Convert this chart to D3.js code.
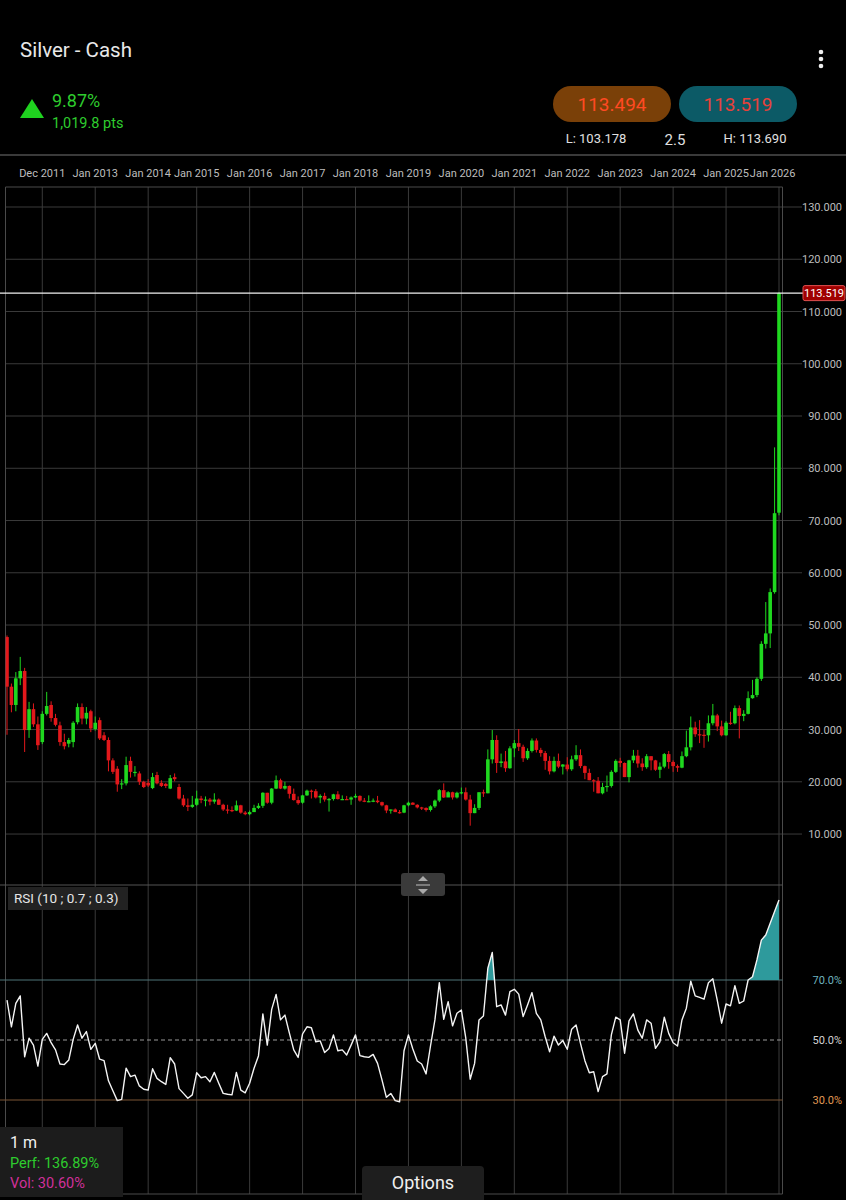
<!DOCTYPE html>
<html><head><meta charset="utf-8">
<script src="https://cdn.jsdelivr.net/npm/d3@7"></script>
<style>html,body{margin:0;padding:0;background:#000;}svg{display:block;font-family:Roboto,"Noto Sans",sans-serif;}</style>
</head><body>
<script>
// ---------- DATA ----------
const months = ["2011-05","2011-06","2011-07","2011-08","2011-09","2011-10","2011-11","2011-12",
"2012-01","2012-02","2012-03","2012-04","2012-05","2012-06","2012-07","2012-08","2012-09","2012-10","2012-11","2012-12",
"2013-01","2013-02","2013-03","2013-04","2013-05","2013-06","2013-07","2013-08","2013-09","2013-10","2013-11","2013-12",
"2014-01","2014-02","2014-03","2014-04","2014-05","2014-06","2014-07","2014-09","2014-10","2014-11","2014-12",
"2015-01","2015-02","2015-03","2015-04","2015-05","2015-06","2015-07","2015-08","2015-09","2015-10","2015-11","2015-12",
"2016-01","2016-02","2016-03","2016-04","2016-05","2016-06","2016-07","2016-08","2016-09","2016-10","2016-11","2016-12",
"2017-01","2017-02","2017-03","2017-04","2017-05","2017-06","2017-07","2017-08","2017-09","2017-10","2017-11","2017-12",
"2018-01","2018-02","2018-03","2018-04","2018-05","2018-06","2018-07","2018-08","2018-09","2018-10","2018-11","2018-12",
"2019-01","2019-02","2019-03","2019-04","2019-05","2019-06","2019-07","2019-08","2019-09","2019-10","2019-11","2019-12",
"2020-01","2020-02","2020-03","2020-04","2020-05","2020-06","2020-07","2020-08","2020-09","2020-10","2020-11","2020-12",
"2021-01","2021-02","2021-03","2021-04","2021-05","2021-06","2021-07","2021-08","2021-09","2021-10","2021-11","2021-12",
"2022-01","2022-02","2022-03","2022-04","2022-05","2022-06","2022-07","2022-08","2022-09","2022-10","2022-11","2022-12",
"2023-01","2023-02","2023-03","2023-04","2023-05","2023-06","2023-07","2023-08","2023-09","2023-10","2023-11","2023-12",
"2024-01","2024-02","2024-03","2024-04","2024-05","2024-06","2024-07","2024-08","2024-09","2024-10","2024-11","2024-12",
"2025-01","2025-02","2025-03","2025-04","2025-05","2025-06","2025-07","2025-08","2025-09","2025-10","2025-11","2025-12",
"2026-01"];

const open = [47.7,38.2,34.7,39.8,41.2,29.9,33.9,31.0,
27.6,33.0,34.7,32.2,30.8,27.6,27.3,27.6,31.4,34.3,32.1,33.5,
30.1,31.8,28.9,28.0,24.1,22.5,19.5,19.7,24.0,21.7,21.6,20.0,
19.8,18.8,21.3,19.8,19.6,18.7,20.9,19.0,16.8,15.5,15.2,
15.6,16.8,16.4,16.6,16.2,16.6,15.6,14.7,14.6,14.5,15.5,14.1,
13.8,14.2,15.0,15.4,17.9,16.0,18.7,20.3,18.7,19.2,17.7,16.5,
16.0,17.4,18.3,18.2,17.0,17.3,16.6,16.7,17.6,16.7,16.7,16.6,
17.0,17.3,16.4,16.3,16.3,16.4,16.1,15.5,14.5,14.7,14.2,14.1,
15.5,16.0,15.6,15.1,15.0,14.6,15.3,16.4,18.4,17.0,18.0,17.0,
17.9,18.0,16.6,14.0,15.0,18.0,17.8,24.3,28.0,23.6,23.9,22.6,
26.4,27.4,26.7,24.5,25.9,27.9,26.1,25.5,24.0,22.0,24.0,22.9,
23.3,22.4,24.3,25.1,23.0,21.7,20.3,20.2,17.8,19.0,19.2,21.9,
24.0,23.6,20.9,24.1,25.0,23.5,22.8,24.9,24.1,22.3,22.9,25.3,
23.8,23.0,22.7,24.9,26.6,30.4,29.1,29.0,28.9,31.2,32.7,30.6,
28.9,31.3,31.2,34.1,32.6,33.0,36.0,36.6,39.7,46.4,48.4,56.3,
71.5];

const high = [48.0,38.8,41.0,43.9,41.8,35.3,35.0,32.5,
33.5,37.2,35.4,33.0,31.5,29.2,28.4,31.6,35.0,35.0,34.3,33.8,
32.5,32.3,29.5,28.5,24.5,23.0,20.5,24.8,24.8,23.0,22.0,20.2,
20.5,21.7,21.9,20.3,19.8,21.3,21.6,19.6,17.5,16.8,17.3,
18.3,17.3,17.2,16.9,17.8,16.8,15.8,15.6,15.3,16.4,15.6,14.4,
14.5,15.6,15.9,18.0,17.9,18.8,21.2,20.6,20.0,19.3,18.7,17.2,
17.5,18.5,18.5,18.6,17.6,17.9,16.9,17.7,18.2,17.4,17.3,17.2,
17.7,17.4,16.9,17.4,16.8,17.3,16.2,15.6,14.7,14.9,14.6,15.6,
16.2,16.1,15.7,15.2,15.1,15.5,16.6,18.6,19.7,18.2,18.1,18.1,
18.9,18.9,17.5,15.7,18.0,18.5,26.2,29.9,28.9,25.4,25.9,26.8,
28.0,30.1,27.1,26.4,28.3,28.3,26.5,25.9,24.9,24.8,25.4,23.4,
24.7,25.0,27.0,26.2,23.1,22.5,20.5,20.9,19.8,21.2,22.2,24.3,
24.6,23.7,24.2,26.1,26.1,24.5,25.3,24.9,24.2,23.7,25.5,25.9,
24.1,23.3,25.8,29.8,32.5,31.5,31.8,29.9,32.7,34.9,33.0,31.7,
31.6,33.4,34.6,34.6,33.7,37.3,39.5,40.0,46.9,54.4,57.0,84.0,
113.69];

const low = [29.0,33.3,33.5,38.5,25.7,28.4,30.5,26.1,
27.2,32.7,31.5,30.6,26.9,26.2,26.6,26.6,31.0,31.0,31.0,29.5,
29.8,28.0,27.8,22.0,21.5,18.1,18.6,19.3,20.8,21.0,19.4,18.8,
19.0,18.6,19.5,19.0,18.8,18.6,20.1,16.6,15.2,14.4,15.0,
15.4,15.9,15.3,15.5,15.8,15.6,14.4,13.9,14.2,14.4,13.9,13.6,
13.6,14.2,14.8,15.0,15.8,15.7,18.6,18.6,18.5,16.8,16.4,15.6,
15.8,17.3,16.8,16.8,15.9,16.2,14.3,16.4,16.6,16.5,16.6,15.6,
16.9,16.2,16.1,16.1,16.1,15.9,15.3,14.0,13.9,14.2,13.9,14.0,
15.3,15.6,14.9,14.6,14.3,14.3,15.0,16.1,16.9,17.1,16.6,16.8,
17.6,16.4,11.6,14.0,14.6,17.1,17.8,23.5,21.7,22.8,21.9,22.5,
24.7,25.9,23.8,24.2,25.6,25.6,24.8,22.3,21.4,21.8,22.6,21.4,
22.0,22.1,24.0,22.6,20.5,20.3,18.1,17.8,17.6,18.1,18.9,21.7,
22.8,20.9,19.9,23.6,22.7,22.1,22.5,22.2,22.1,20.7,22.6,22.5,
21.9,21.9,22.6,24.7,26.0,28.6,27.4,26.5,27.7,30.8,29.7,28.7,
28.8,30.9,31.0,28.3,31.6,32.9,35.9,36.2,39.3,45.5,45.6,56.0,
71.0];

const close = [38.2,34.7,39.8,41.2,29.9,33.9,31.0,27.0,
33.0,34.5,32.2,30.9,27.6,26.8,28.0,31.3,34.3,32.1,33.2,30.2,
31.3,28.3,28.0,24.1,21.9,19.5,19.7,23.2,21.9,21.9,20.0,19.0,
19.3,20.9,19.7,19.2,19.2,20.7,20.5,16.8,15.5,15.2,15.6,
16.8,16.5,16.6,16.2,16.6,15.6,14.7,14.6,14.5,15.5,14.1,13.8,
14.2,15.0,15.4,17.9,16.0,18.7,20.3,18.7,19.2,17.7,16.5,15.9,
17.4,18.3,18.2,17.0,17.3,16.6,16.7,17.6,16.7,16.7,16.6,17.0,
17.3,16.4,16.3,16.3,16.4,16.1,15.5,14.5,14.7,14.2,14.1,15.5,
16.0,15.6,15.1,15.0,14.6,15.3,16.4,18.4,17.0,18.0,17.0,17.9,
18.0,16.6,14.0,15.0,18.0,17.8,24.3,28.0,23.6,23.9,22.6,26.4,
27.4,26.7,24.5,25.9,27.9,26.1,25.5,24.0,22.0,24.0,22.9,23.3,
22.4,24.3,25.1,23.0,21.7,20.3,20.2,17.8,19.0,19.2,21.9,24.0,
23.6,20.9,24.1,25.0,23.5,22.8,24.9,24.1,22.3,22.9,25.3,23.8,
23.0,22.7,24.9,26.6,30.4,29.1,29.0,28.9,31.2,32.7,30.6,28.9,
31.3,31.2,34.1,32.6,33.0,36.0,36.6,39.7,46.4,48.4,56.3,71.4,
113.519];

const rsi = [63.3,54.4,62.2,64.7,44.4,50.6,48.3,41.3,50.2,52.2,49.1,46.7,42.0,41.8,43.3,50.2,55.0,50.6,52.8,46.9,
48.9,43.6,43.1,36.4,33.1,29.8,30.2,40.6,37.8,38.3,34.7,33.6,33.3,40.4,37.2,36.1,35.2,44.1,42.0,33.8,
32.2,30.6,31.7,39.1,37.4,37.8,36.1,39.2,35.6,32.2,31.9,31.7,39.2,33.3,32.4,35.6,40.6,44.7,58.7,48.3,
60.2,65.2,56.7,58.3,52.4,46.7,44.2,52.0,54.4,54.1,49.4,49.7,45.8,47.2,51.7,46.4,46.7,45.0,48.3,51.7,
44.8,44.4,44.2,45.2,42.2,36.7,30.9,32.2,29.8,29.4,46.4,51.7,47.0,43.0,42.0,38.7,48.0,56.7,69.1,56.9,
62.8,54.7,58.9,60.0,50.6,36.9,42.2,56.7,58.0,73.9,79.2,61.1,61.7,58.3,66.1,66.9,65.3,57.8,61.7,65.8,
58.9,56.7,51.1,46.1,51.3,48.3,49.8,46.9,53.6,55.0,48.9,43.1,39.1,39.4,32.8,37.8,38.7,51.7,57.6,56.7,
45.6,56.4,58.7,53.3,50.6,56.7,55.6,47.2,49.4,57.6,52.2,49.1,48.0,56.7,60.6,69.6,64.7,64.2,63.6,69.1,
70.4,63.3,55.6,62.0,61.4,68.1,62.2,63.0,70.0,71.1,76.7,83.3,85.0,88.9,92.8,96.7];

const tickMonths = ["2012-01","2013-01","2014-01","2015-01","2016-01","2017-01","2018-01","2019-01","2020-01","2021-01","2022-01","2023-01","2024-01","2025-01","2026-01"];
const tickLabels = ["Dec 2011","Jan 2013","Jan 2014","Jan 2015","Jan 2016","Jan 2017","Jan 2018","Jan 2019","Jan 2020","Jan 2021","Jan 2022","Jan 2023","Jan 2024","Jan 2025","Jan 2026"];
const priceTicks = [10,20,30,40,50,60,70,80,90,100,110,120,130];
const rsiLevels = [70,50,30];
const lastPrice = 113.519;

// ---------- LAYOUT ----------
const W = 846, H = 1200;
const L = 5.5, R = 782.5, PT = 187, PB = 885, RB = 1194;
const svg = d3.select("body").append("svg").attr("width", W).attr("height", H);
svg.append("rect").attr("width", W).attr("height", H).attr("fill", "#000");

const x = d3.scaleLinear().domain([0, months.length - 1]).range([7, 779]);
const y = d3.scaleLinear().domain([0, 130]).range([886.3, 207]);
const yr = d3.scaleLinear().domain([30, 70]).range([1100, 980]);

// ---------- HEADER ----------
svg.append("text").attr("x", 20).attr("y", 57).attr("fill", "#e8e8e8").attr("font-size", 20.5).text("Silver - Cash");
const dots = svg.append("g").attr("fill", "#eee");
[52, 59, 66].forEach(cy => dots.append("circle").attr("cx", 821).attr("cy", cy).attr("r", 2.3));
svg.append("path").attr("d", "M20,118 L32,99 L44,118 Z").attr("fill", "#1fd21f");
svg.append("text").attr("x", 52).attr("y", 107).attr("fill", "#2ecc2e").attr("font-size", 18).text("9.87%");
svg.append("text").attr("x", 52).attr("y", 128).attr("fill", "#2ecc2e").attr("font-size", 14.5).text("1,019.8 pts");
svg.append("rect").attr("x", 553).attr("y", 86).attr("width", 118).attr("height", 36).attr("rx", 18).attr("fill", "#7a4008");
svg.append("text").attr("x", 612).attr("y", 111).attr("text-anchor", "middle").attr("fill", "#ff4a22").attr("font-size", 19).text("113.494");
svg.append("rect").attr("x", 679).attr("y", 86).attr("width", 118).attr("height", 36).attr("rx", 18).attr("fill", "#0c5a66");
svg.append("text").attr("x", 738).attr("y", 111).attr("text-anchor", "middle").attr("fill", "#e8413a").attr("font-size", 19).text("113.519");
svg.append("text").attr("x", 596).attr("y", 143).attr("text-anchor", "middle").attr("fill", "#e0e0e0").attr("font-size", 13).text("L: 103.178");
svg.append("text").attr("x", 675).attr("y", 145).attr("text-anchor", "middle").attr("fill", "#e0e0e0").attr("font-size", 15).text("2.5");
svg.append("text").attr("x", 755).attr("y", 143).attr("text-anchor", "middle").attr("fill", "#e0e0e0").attr("font-size", 13).text("H: 113.690");
svg.append("rect").attr("x", 0).attr("y", 154).attr("width", W).attr("height", 2).attr("fill", "#3a3a3a");

// ---------- X LABELS + VERTICAL GRID ----------
const tickIdx = tickMonths.map(m => months.indexOf(m));
const grid = svg.append("g");
let prevRight = -Infinity;
tickIdx.forEach((ti, k) => {
  const gx = x(ti);
  grid.append("line").attr("x1", gx).attr("x2", gx).attr("y1", PT).attr("y2", RB).attr("stroke", "#3a3a3a").attr("stroke-width", 1);
  const t = svg.append("text").attr("y", 177).attr("fill", "#bdbdbd").attr("font-size", 11).attr("text-anchor", "middle").text(tickLabels[k]);
  const tw = t.node().getComputedTextLength();
  let cx = gx;
  if (cx + tw / 2 > R) cx = R - tw / 2;
  if (cx - tw / 2 < prevRight + 1) cx = prevRight + 1 + tw / 2;
  t.attr("x", cx);
  prevRight = cx + tw / 2;
});

// horizontal price grid
priceTicks.forEach(v => {
  grid.append("line").attr("x1", L).attr("x2", 802).attr("y1", y(v)).attr("y2", y(v)).attr("stroke", "#3a3a3a");
  svg.append("text").attr("x", 842).attr("y", y(v) + 4).attr("text-anchor", "end").attr("fill", "#bdbdbd").attr("font-size", 11).text(d3.format(".3f")(v));
});

// frame
const frame = svg.append("g").attr("stroke", "#4a4a4a").attr("stroke-width", 1).attr("fill", "none");
frame.append("line").attr("x1", L).attr("x2", L).attr("y1", PT).attr("y2", RB);
frame.append("line").attr("x1", R).attr("x2", R).attr("y1", PT).attr("y2", RB);
frame.append("line").attr("x1", L).attr("x2", R).attr("y1", PT).attr("y2", PT);
frame.append("line").attr("x1", 0).attr("x2", R).attr("y1", PB).attr("y2", PB).attr("stroke", "#555");
frame.append("line").attr("x1", L).attr("x2", R).attr("y1", RB).attr("y2", RB);

// ---------- CANDLES ----------
const defs = svg.append("defs");
defs.append("clipPath").attr("id", "pc").append("rect").attr("x", L).attr("y", PT).attr("width", R - L).attr("height", PB - PT);
const cg = svg.append("g").attr("clip-path", "url(#pc)");
const green = "#1fd81f", red = "#e3181b";
months.forEach((m, i) => {
  const o = open[i], c = close[i], hi = high[i], lo = low[i];
  const col = c >= o ? green : red;
  const cx = x(i);
  cg.append("line").attr("x1", cx).attr("x2", cx).attr("y1", y(hi)).attr("y2", y(lo)).attr("stroke", col).attr("stroke-width", 1);
  const top = y(Math.max(o, c)), bot = y(Math.min(o, c));
  cg.append("rect").attr("x", cx - 1.8).attr("y", top).attr("width", 3.6).attr("height", Math.max(1.2, bot - top)).attr("fill", col);
});

// last price line + label
svg.append("line").attr("x1", 0).attr("x2", 803).attr("y1", y(lastPrice)).attr("y2", y(lastPrice)).attr("stroke", "#f2f2f2").attr("stroke-width", 1.3);
svg.append("rect").attr("x", 803).attr("y", y(lastPrice) - 7.5).attr("width", 42).attr("height", 15).attr("rx", 2).attr("fill", "#a00000").attr("stroke", "#e05050").attr("stroke-width", 1);
svg.append("text").attr("x", 824).attr("y", y(lastPrice) + 4).attr("text-anchor", "middle").attr("fill", "#fff").attr("font-size", 11).text(lastPrice.toFixed(3));

// ---------- RSI ----------
const lvlColor = {70: "#4f7478", 50: "#9a9a9a", 30: "#7a5434"};
const lblColor = {70: "#6fb4bf", 50: "#d4d4d4", 30: "#e09a55"};
rsiLevels.forEach(v => {
  const ln = svg.append("line").attr("x1", 0).attr("x2", R).attr("y1", yr(v)).attr("y2", yr(v)).attr("stroke", lvlColor[v]).attr("stroke-width", 1);
  if (v === 50) ln.attr("stroke-dasharray", "4,3");
  svg.append("text").attr("x", 842).attr("y", yr(v) + 4).attr("text-anchor", "end").attr("fill", lblColor[v]).attr("font-size", 11).text(v.toFixed(1) + "%");
});
defs.append("clipPath").attr("id", "ob").append("rect").attr("x", L).attr("y", PB).attr("width", R - L).attr("height", yr(70) - PB);
defs.append("clipPath").attr("id", "rc").append("rect").attr("x", L).attr("y", PB).attr("width", R - L).attr("height", RB - PB);
svg.append("path").datum(rsi).attr("clip-path", "url(#ob)")
  .attr("d", d3.area().x((d, i) => x(i)).y0(yr(70)).y1(d => yr(d)))
  .attr("fill", "#2e9a9c");
svg.append("path").datum(rsi).attr("clip-path", "url(#rc)")
  .attr("d", d3.line().x((d, i) => x(i)).y(d => yr(d)))
  .attr("fill", "none").attr("stroke", "#f4f4f4").attr("stroke-width", 1.4).attr("stroke-linejoin", "round");

// RSI label box
svg.append("rect").attr("x", 8).attr("y", 887).attr("width", 120).attr("height", 23).attr("fill", "#222");
svg.append("text").attr("x", 14).attr("y", 903).attr("fill", "#e6e6e6").attr("font-size", 13.5).text("RSI (10 ; 0.7 ; 0.3)");

// handle
svg.append("rect").attr("x", 401).attr("y", 873).attr("width", 44).attr("height", 23).attr("rx", 3).attr("fill", "#3a3a3a");
svg.append("path").attr("d", "M418,881 L423,876 L428,881 Z M418,889 L423,894 L428,889 Z").attr("fill", "#aaa");
svg.append("line").attr("x1", 416).attr("x2", 430).attr("y1", 885).attr("y2", 885).attr("stroke", "#aaa").attr("stroke-width", 1.2);

// bottom-left box
svg.append("rect").attr("x", 0).attr("y", 1127).attr("width", 123).attr("height", 70).attr("fill", "#1c1c1c");
svg.append("text").attr("x", 10).attr("y", 1148).attr("fill", "#f0f0f0").attr("font-size", 16).text("1 m");
svg.append("text").attr("x", 10).attr("y", 1168).attr("fill", "#2ecc2e").attr("font-size", 14.5).text("Perf: 136.89%");
svg.append("text").attr("x", 10).attr("y", 1188).attr("fill", "#d0309a").attr("font-size", 14.5).text("Vol: 30.60%");

// options button
svg.append("path").attr("d", "M362,1200 L362,1170 Q362,1166 366,1166 L480,1166 Q484,1166 484,1170 L484,1200 Z").attr("fill", "#1e1e1e");
svg.append("text").attr("x", 423).attr("y", 1189).attr("text-anchor", "middle").attr("fill", "#f0f0f0").attr("font-size", 18).text("Options");
</script>
</body></html>
